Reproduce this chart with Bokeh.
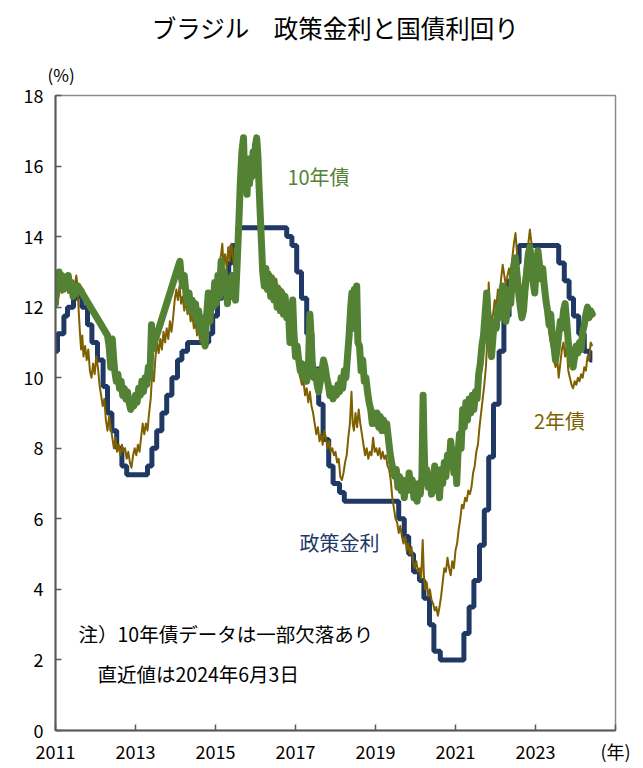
from bokeh.plotting import figure
from bokeh.models import Label, FixedTicker, Range1d, Title
from bokeh.embed import file_html
from bokeh.resources import INLINE

# ---------------- data ----------------
# Policy rate (Selic), step changes: date (decimal year), rate (%)
selic_dates = [2011.00, 2011.05, 2011.21, 2011.30, 2011.45, 2011.55, 2011.66, 2011.80, 2011.91,
               2012.05, 2012.19, 2012.30, 2012.41, 2012.53, 2012.66, 2012.78,
               2013.30, 2013.41, 2013.53, 2013.66, 2013.78, 2013.91,
               2014.05, 2014.16, 2014.30, 2014.83, 2014.93,
               2015.05, 2015.17, 2015.33, 2015.41, 2015.55,
               2016.78, 2016.91, 2017.03, 2017.15, 2017.28, 2017.41, 2017.58, 2017.69, 2017.83, 2017.94,
               2018.10, 2018.22, 2019.58, 2019.72, 2019.83, 2019.95,
               2020.10, 2020.21, 2020.35, 2020.46, 2020.62,
               2021.21, 2021.34, 2021.46, 2021.60, 2021.72, 2021.83, 2021.95,
               2022.09, 2022.21, 2022.34, 2022.46, 2022.59,
               2023.58, 2023.72, 2023.84, 2023.95, 2024.08, 2024.22, 2024.36, 2024.42]
selic_vals = [10.75, 11.25, 11.75, 12.00, 12.25, 12.50, 12.00, 11.50, 11.00,
              10.50, 9.75, 9.00, 8.50, 8.00, 7.50, 7.25,
              7.50, 8.00, 8.50, 9.00, 9.50, 10.00,
              10.50, 10.75, 11.00, 11.25, 11.75,
              12.25, 12.75, 13.25, 13.75, 14.25,
              14.00, 13.75, 13.00, 12.25, 11.25, 10.25, 9.25, 8.25, 7.50, 7.00,
              6.75, 6.50, 6.00, 5.50, 5.00, 4.50,
              4.25, 3.75, 3.00, 2.25, 2.00,
              2.75, 3.50, 4.25, 5.25, 6.25, 7.75, 9.25,
              10.75, 11.75, 12.75, 13.25, 13.75,
              13.25, 12.75, 12.25, 11.75, 11.25, 10.75, 10.50, 10.50]

# 10-year government bond yield (%), partly missing
y10_dates = [2011.00, 2011.03, 2011.06, 2011.09, 2011.12, 2011.16, 2011.20, 2011.24, 2011.28, 2011.32,
             2011.36, 2011.40, 2011.44, 2011.48, 2011.52, 2011.56, 2012.30, 2012.34, 2012.38, 2012.42,
             2012.45, 2012.48, 2012.52, 2012.56, 2012.60, 2012.64, 2012.68, 2012.72, 2012.76, 2012.80,
             2012.84, 2012.88, 2012.92, 2012.96, 2013.00, 2013.04, 2013.08, 2013.12, 2013.16, 2013.20,
             2013.24, 2013.28, 2013.32, 2013.36, 2013.40, 2013.42, 2014.08, 2014.11, 2014.14, 2014.18,
             2014.22, 2014.26, 2014.30, 2014.34, 2014.38, 2014.42, 2014.46, 2014.50, 2014.54, 2014.58,
             2014.62, 2014.66, 2014.70, 2014.74, 2014.78, 2014.82, 2014.86, 2014.90, 2014.94, 2014.98,
             2015.02, 2015.06, 2015.10, 2015.14, 2015.18, 2015.22, 2015.26, 2015.30, 2015.34, 2015.38,
             2015.42, 2015.46, 2015.50, 2015.54, 2015.58, 2015.62, 2015.66, 2015.70, 2015.73, 2015.76,
             2015.79, 2015.82, 2015.85, 2015.88, 2015.91, 2015.94, 2015.97, 2016.00, 2016.03, 2016.06,
             2016.09, 2016.12, 2016.15, 2016.18, 2016.22, 2016.26, 2016.30, 2016.34, 2016.38, 2016.42,
             2016.46, 2016.50, 2016.54, 2016.58, 2016.62, 2016.66, 2016.70, 2016.74, 2016.78, 2016.82,
             2016.86, 2016.90, 2016.93, 2016.96, 2017.00, 2017.04, 2017.08, 2017.12, 2017.16, 2017.20,
             2017.24, 2017.28, 2017.32, 2017.36, 2017.39, 2017.42, 2017.46, 2017.50, 2017.54, 2017.58,
             2017.62, 2017.66, 2017.70, 2017.74, 2017.78, 2017.82, 2017.86, 2017.90, 2017.94, 2017.98,
             2018.02, 2018.06, 2018.10, 2018.14, 2018.18, 2018.22, 2018.26, 2018.30, 2018.34, 2018.38,
             2018.41, 2018.44, 2018.47, 2018.50, 2018.53, 2018.56, 2018.60, 2018.64, 2018.68, 2018.72,
             2018.76, 2018.80, 2018.84, 2018.88, 2018.92, 2018.96, 2019.00, 2019.04, 2019.08, 2019.12,
             2019.16, 2019.20, 2019.24, 2019.28, 2019.32, 2019.36, 2019.40, 2019.44, 2019.48, 2019.52,
             2019.56, 2019.60, 2019.64, 2019.68, 2019.72, 2019.76, 2019.80, 2019.84, 2019.88, 2019.92,
             2019.96, 2020.00, 2020.04, 2020.08, 2020.12, 2020.16, 2020.19, 2020.21, 2020.24, 2020.28,
             2020.32, 2020.36, 2020.40, 2020.44, 2020.48, 2020.52, 2020.56, 2020.60, 2020.64, 2020.68,
             2020.72, 2020.76, 2020.80, 2020.84, 2020.88, 2020.92, 2020.96, 2021.00, 2021.03, 2021.06,
             2021.10, 2021.14, 2021.18, 2021.22, 2021.26, 2021.30, 2021.34, 2021.38, 2021.42, 2021.46,
             2021.50, 2021.54, 2021.58, 2021.62, 2021.66, 2021.70, 2021.74, 2021.78, 2021.82, 2021.86,
             2021.90, 2021.94, 2021.98, 2022.02, 2022.06, 2022.10, 2022.14, 2022.18, 2022.22, 2022.26,
             2022.30, 2022.34, 2022.38, 2022.42, 2022.46, 2022.50, 2022.54, 2022.58, 2022.62, 2022.66,
             2022.70, 2022.74, 2022.78, 2022.82, 2022.86, 2022.90, 2022.94, 2022.98, 2023.02, 2023.06,
             2023.10, 2023.14, 2023.18, 2023.22, 2023.26, 2023.30, 2023.34, 2023.38, 2023.42, 2023.46,
             2023.50, 2023.54, 2023.58, 2023.62, 2023.66, 2023.70, 2023.74, 2023.78, 2023.82, 2023.86,
             2023.90, 2023.94, 2023.98, 2024.02, 2024.06, 2024.10, 2024.14, 2024.18, 2024.22, 2024.26,
             2024.30, 2024.34, 2024.38, 2024.42]
y10_vals = [12.1, 12.8, 12.6, 13.0, 12.7, 12.9, 12.5, 12.8, 12.6, 12.9,
            12.5, 12.7, 12.3, 12.6, 12.4, 12.6, 11.2, 10.9, 10.3, 11.1,
            10.6, 10.2, 9.9, 10.1, 9.7, 9.9, 9.5, 9.7, 9.4, 9.6,
            9.3, 9.1, 9.3, 9.2, 9.5, 9.3, 9.7, 9.5, 9.9, 9.6,
            10.0, 9.8, 10.3, 10.0, 11.5, 10.8, 13.2, 13.3, 12.9, 12.6,
            12.9, 12.4, 12.1, 12.4, 11.9, 12.2, 11.8, 12.1, 11.6, 11.9,
            11.3, 11.7, 11.1, 10.9, 11.8, 12.4, 11.6, 12.3, 12.0, 12.7,
            12.1, 12.9, 12.3, 13.3, 12.5, 13.0, 12.6, 12.1, 12.8, 12.3,
            12.9, 12.5, 12.2, 13.2, 14.3, 15.5, 16.4, 16.8, 15.6, 16.0,
            15.2, 16.2, 15.5, 16.1, 15.7, 16.4, 16.0, 16.6, 16.8, 16.3,
            15.4, 14.6, 13.8, 13.0, 12.6, 13.1, 12.5, 12.9, 12.3, 12.8,
            12.2, 12.6, 12.0, 12.5, 11.9, 12.4, 11.8, 12.3, 11.7, 12.0,
            11.0, 11.8, 12.2, 11.3, 10.6, 10.9, 10.5, 10.2, 10.4, 10.0,
            10.3, 9.9, 10.2, 11.8, 11.2, 10.4, 10.0, 10.2, 9.8, 9.6,
            9.9, 10.2, 10.5, 10.3, 10.0, 9.8, 9.5, 9.7, 9.4, 9.6,
            9.5, 9.8, 9.6, 10.0, 9.7, 10.2, 10.0, 10.6, 11.2, 12.0,
            12.4, 11.4, 12.5, 11.6, 12.6, 11.0, 10.9, 10.2, 10.5, 9.9,
            10.0, 9.6, 9.3, 9.1, 8.7, 9.0, 8.7, 9.0, 8.6, 8.9,
            8.5, 8.8, 8.5, 8.7, 8.3, 7.9, 7.6, 7.4, 7.2, 7.4,
            6.9, 7.2, 6.8, 7.1, 6.6, 7.0, 6.8, 7.3, 6.9, 7.1,
            6.6, 6.9, 6.5, 7.0, 6.7, 7.2, 9.5, 8.3, 7.1, 7.4,
            6.9, 7.2, 6.7, 7.1, 7.5, 6.8, 7.3, 6.6, 7.4, 7.0,
            7.6, 7.2, 7.8, 7.5, 8.2, 7.8, 7.3, 7.9, 7.0, 7.8,
            8.4, 8.0, 9.1, 8.6, 9.3, 8.8, 9.4, 9.0, 9.5, 9.1,
            9.6, 9.4, 10.1, 10.4, 10.9, 11.2, 11.8, 12.4, 11.6, 11.0,
            10.6, 11.2, 11.6, 11.4, 12.0, 11.7, 12.3, 12.6, 12.1, 11.6,
            12.0, 12.5, 12.1, 12.8, 13.2, 13.4, 12.9, 12.4, 12.0, 11.7,
            11.9, 12.5, 13.0, 13.5, 13.7, 13.2, 12.7, 12.4, 13.1, 13.6,
            13.2, 12.8, 13.1, 12.6, 12.2, 11.9, 11.5, 11.8, 11.2, 10.9,
            10.5, 10.8, 11.2, 11.6, 11.4, 11.9, 12.1, 11.6, 11.0, 10.7,
            10.4, 10.3, 10.6, 10.9, 10.7, 11.0, 10.8, 11.3, 11.5, 11.8,
            12.0, 11.7, 11.9, 11.8]

# 2-year government bond yield (%)
y2_dates = [2011.00, 2011.04, 2011.08, 2011.12, 2011.16, 2011.20, 2011.24, 2011.28, 2011.32, 2011.36,
            2011.40, 2011.44, 2011.48, 2011.52, 2011.55, 2011.58, 2011.61, 2011.64, 2011.67, 2011.70,
            2011.74, 2011.78, 2011.82, 2011.86, 2011.90, 2011.94, 2011.98, 2012.02, 2012.06, 2012.10,
            2012.14, 2012.18, 2012.22, 2012.26, 2012.30, 2012.34, 2012.38, 2012.42, 2012.46, 2012.50,
            2012.54, 2012.58, 2012.62, 2012.66, 2012.70, 2012.74, 2012.78, 2012.82, 2012.86, 2012.90,
            2012.94, 2012.98, 2013.02, 2013.06, 2013.10, 2013.14, 2013.18, 2013.22, 2013.26, 2013.30,
            2013.34, 2013.38, 2013.42, 2013.46, 2013.50, 2013.54, 2013.58, 2013.62, 2013.66, 2013.70,
            2013.74, 2013.78, 2013.82, 2013.86, 2013.90, 2013.94, 2013.98, 2014.02, 2014.06, 2014.10,
            2014.14, 2014.18, 2014.22, 2014.26, 2014.30, 2014.34, 2014.38, 2014.42, 2014.46, 2014.50,
            2014.54, 2014.58, 2014.62, 2014.66, 2014.70, 2014.74, 2014.78, 2014.82, 2014.86, 2014.90,
            2014.94, 2014.98, 2015.02, 2015.06, 2015.10, 2015.14, 2015.17, 2015.20, 2015.24, 2015.28,
            2015.32, 2015.36, 2015.40, 2015.44, 2015.48, 2015.52, 2015.56, 2015.60, 2015.64, 2015.68,
            2015.72, 2015.76, 2015.80, 2015.84, 2015.88, 2015.92, 2015.96, 2016.00, 2016.04, 2016.07,
            2016.10, 2016.13, 2016.16, 2016.20, 2016.24, 2016.28, 2016.32, 2016.36, 2016.40, 2016.44,
            2016.48, 2016.52, 2016.56, 2016.60, 2016.64, 2016.68, 2016.72, 2016.76, 2016.80, 2016.84,
            2016.88, 2016.92, 2016.96, 2017.00, 2017.04, 2017.08, 2017.12, 2017.16, 2017.20, 2017.24,
            2017.28, 2017.32, 2017.36, 2017.40, 2017.44, 2017.48, 2017.52, 2017.56, 2017.60, 2017.64,
            2017.68, 2017.72, 2017.76, 2017.80, 2017.84, 2017.88, 2017.92, 2017.96, 2018.00, 2018.04,
            2018.08, 2018.12, 2018.16, 2018.20, 2018.24, 2018.28, 2018.32, 2018.36, 2018.40, 2018.43,
            2018.46, 2018.50, 2018.54, 2018.58, 2018.62, 2018.66, 2018.70, 2018.74, 2018.78, 2018.82,
            2018.86, 2018.90, 2018.94, 2018.98, 2019.02, 2019.06, 2019.10, 2019.14, 2019.18, 2019.22,
            2019.26, 2019.30, 2019.34, 2019.38, 2019.42, 2019.46, 2019.50, 2019.54, 2019.58, 2019.62,
            2019.66, 2019.70, 2019.74, 2019.78, 2019.82, 2019.86, 2019.90, 2019.94, 2019.98, 2020.02,
            2020.06, 2020.10, 2020.14, 2020.18, 2020.21, 2020.24, 2020.28, 2020.32, 2020.36, 2020.40,
            2020.44, 2020.48, 2020.52, 2020.56, 2020.60, 2020.64, 2020.68, 2020.72, 2020.76, 2020.80,
            2020.84, 2020.88, 2020.92, 2020.96, 2021.00, 2021.04, 2021.08, 2021.12, 2021.16, 2021.20,
            2021.24, 2021.28, 2021.32, 2021.36, 2021.40, 2021.44, 2021.48, 2021.52, 2021.56, 2021.60,
            2021.64, 2021.68, 2021.72, 2021.76, 2021.80, 2021.83, 2021.86, 2021.90, 2021.94, 2021.98,
            2022.02, 2022.06, 2022.10, 2022.14, 2022.18, 2022.22, 2022.26, 2022.30, 2022.34, 2022.38,
            2022.42, 2022.46, 2022.50, 2022.54, 2022.58, 2022.62, 2022.66, 2022.70, 2022.74, 2022.78,
            2022.82, 2022.86, 2022.90, 2022.94, 2022.98, 2023.02, 2023.06, 2023.10, 2023.14, 2023.18,
            2023.22, 2023.26, 2023.30, 2023.34, 2023.38, 2023.42, 2023.46, 2023.50, 2023.54, 2023.58,
            2023.62, 2023.66, 2023.70, 2023.74, 2023.78, 2023.82, 2023.86, 2023.90, 2023.94, 2023.98,
            2024.02, 2024.06, 2024.10, 2024.14, 2024.18, 2024.22, 2024.26, 2024.30, 2024.34, 2024.38,
            2024.42]
y2_vals = [12.0, 12.4, 12.3, 12.6, 12.4, 12.7, 12.5, 12.6, 12.4, 12.6,
           12.3, 12.5, 12.6, 12.9, 12.6, 11.9, 11.3, 10.8, 11.2, 10.6,
           10.9, 10.5, 10.8, 10.2, 10.0, 10.4, 10.1, 10.6, 10.3, 9.8,
           9.5, 9.2, 9.4, 8.8, 8.5, 8.9, 8.6, 8.3, 8.0, 8.3,
           7.9, 8.1, 7.8, 8.1, 7.9, 8.0, 7.7, 7.9, 7.6, 7.45,
           7.8, 8.0, 7.8, 8.1, 7.9, 8.3, 8.7, 8.4, 8.7, 8.5,
           9.0, 9.4, 10.2, 9.9, 10.6, 11.0, 10.7, 11.1, 10.8, 11.3,
           11.0, 11.4, 11.1, 11.6, 11.3, 11.7, 12.2, 12.5, 12.2, 12.6,
           12.1, 12.3, 11.9, 12.2, 11.8, 12.0, 11.6, 11.8, 11.4, 11.6,
           11.2, 11.4, 11.0, 11.3, 11.0, 10.9, 11.6, 12.2, 11.8, 12.4,
           12.1, 12.6, 12.4, 12.9, 13.2, 13.5, 13.8, 13.2, 13.5, 13.1,
           13.7, 13.3, 13.8, 13.4, 13.0, 13.5, 14.2, 15.0, 15.8, 16.3,
           16.0, 15.6, 15.9, 15.4, 15.9, 15.6, 16.2, 16.6, 16.4, 15.0,
           15.4, 14.6, 13.8, 13.2, 12.8, 13.1, 12.7, 13.0, 12.6, 12.9,
           12.5, 12.8, 12.4, 12.6, 12.2, 12.5, 12.1, 12.0, 11.7, 11.4,
           11.1, 11.3, 10.9, 10.6, 10.7, 10.2, 10.0, 9.8, 9.9, 9.5,
           9.7, 9.3, 9.6, 9.2, 9.0, 8.7, 8.4, 8.6, 8.2, 8.4,
           8.1, 8.5, 8.3, 8.0, 8.2, 7.9, 8.0, 7.8, 7.9, 7.6,
           7.7, 7.2, 7.1, 7.3, 7.6, 7.8, 8.3, 8.7, 9.6, 8.7,
           8.5, 9.0, 8.6, 9.1, 8.7, 8.4, 8.1, 7.8, 8.0, 7.7,
           7.9, 7.8, 8.3, 7.9, 8.0, 7.8, 8.0, 7.7, 7.9, 7.7,
           7.8, 7.5, 7.4, 7.1, 6.6, 6.3, 6.0, 5.9, 5.6, 5.8,
           5.5, 5.3, 5.5, 5.1, 5.3, 5.0, 5.2, 4.8, 4.6, 4.8,
           4.5, 4.6, 4.3, 5.4, 4.4, 4.0, 4.2, 3.8, 4.0, 3.7,
           3.6, 3.4, 3.5, 3.25, 3.5, 3.8, 4.2, 4.6, 4.5, 4.9,
           4.6, 4.4, 4.8, 4.6, 5.1, 5.3, 5.7, 6.0, 6.4, 6.3,
           6.6, 6.5, 6.8, 6.7, 6.9, 7.3, 7.5, 7.9, 8.1, 8.6,
           9.0, 9.4, 9.8, 10.3, 11.2, 12.7, 11.9, 11.6, 11.8, 12.2,
           12.0, 12.5, 12.3, 12.8, 13.2, 12.9, 12.6, 12.9, 13.1, 12.8,
           13.4, 13.8, 14.1, 13.5, 13.0, 12.6, 12.5, 12.8, 13.2, 13.6,
           13.8, 14.2, 13.8, 13.3, 13.0, 13.4, 13.6, 13.2, 12.9, 13.1,
           12.6, 12.2, 11.7, 11.3, 11.0, 10.8, 10.5, 10.3, 10.6, 10.0,
           10.4, 10.8, 11.0, 10.6, 10.9, 10.2, 10.0, 9.8, 9.7, 9.9,
           9.8, 10.0, 9.9, 10.1, 10.0, 10.3, 10.2, 10.6, 10.5, 11.0,
           10.9]

x_ticks = [2011, 2013, 2015, 2017, 2019, 2021, 2023, 2025]
x_tick_labels = ["2011", "2013", "2015", "2017", "2019", "2021", "2023", "(年)"]
y_ticks = [0, 2, 4, 6, 8, 10, 12, 14, 16, 18]

assert len(selic_dates) == len(selic_vals)
assert len(y10_dates) == len(y10_vals)
assert len(y2_dates) == len(y2_vals)

# ---------------- style ----------------
FONT = "Noto Sans CJK JP"
NAVY = "#203864"
GREEN = "#548235"
BROWN = "#7F6000"
AXIS = "#595959"

p = figure(width=640, height=766, output_backend="svg", toolbar_location=None,
           x_range=Range1d(2011, 2025), y_range=Range1d(0, 18),
           min_border_left=55, min_border_right=25, min_border_top=95, min_border_bottom=34)
p.background_fill_color = "white"
p.border_fill_color = "white"
p.outline_line_color = "#8c8c8c"
p.outline_line_width = 1.5
p.grid.visible = False

# titles above the frame: the plot's own title is drawn outermost
p.title.text = "ブラジル　政策金利と国債利回り"
p.title.align = "center"
p.title.standoff = 12
p.title.text_font = FONT
p.title.text_font_size = "24.5px"
p.title.text_font_style = "normal"
p.title.text_color = "black"
unit_title = Title(text="(%)", align="left", offset=-8, standoff=18,
                   text_font=FONT, text_font_size="17px", text_font_style="normal",
                   text_color="black")
p.add_layout(unit_title, "above")

p.step(selic_dates, selic_vals, mode="after", line_color=NAVY, line_width=5)
p.line(y2_dates, y2_vals, line_color=BROWN, line_width=2, line_join="round")
p.line(y10_dates, y10_vals, line_color=GREEN, line_width=7, line_join="round", line_cap="round")

for ax in (p.xaxis[0], p.yaxis[0]):
    ax.axis_line_color = AXIS
    ax.axis_line_width = 2
    ax.major_tick_line_color = AXIS
    ax.major_tick_line_width = 1.5
    ax.major_tick_in = 6
    ax.major_tick_out = 0
    ax.minor_tick_line_color = None
    ax.major_label_text_font = FONT
    ax.major_label_text_font_size = "18px"
    ax.major_label_text_color = "black"

p.xaxis.ticker = FixedTicker(ticks=x_ticks)
p.xaxis.major_label_overrides = {t: s for t, s in zip(x_ticks, x_tick_labels)}
p.xaxis.major_label_standoff = 7
p.yaxis.ticker = FixedTicker(ticks=y_ticks)
p.yaxis.major_label_standoff = 12

def add_text(x, y, text, size, color, align="center"):
    p.add_layout(Label(x=x, y=y, text=text, text_font=FONT, text_font_size=size,
                       text_color=color, text_align=align, text_baseline="middle"))

add_text(2017.575, 15.71, "10年債", "20px", GREEN)
add_text(2023.6, 8.79, "2年債", "20px", BROWN)
add_text(2018.1, 5.34, "政策金利", "20px", NAVY)
add_text(2011.575, 2.74, "注）10年債データは一部欠落あり", "19.5px", "black", align="left")
add_text(2012.05, 1.61, "直近値は2024年6月3日", "19.5px", "black", align="left")

open("out.html", "w").write(file_html(p, INLINE))
